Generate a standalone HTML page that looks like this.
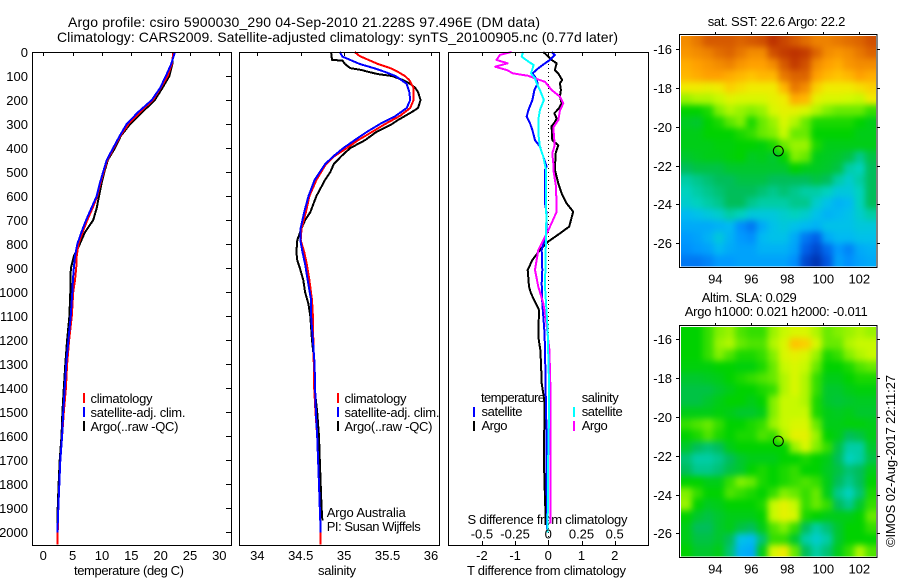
<!DOCTYPE html>
<html lang="en">
<head>
<meta charset="utf-8">
<title>Argo profile chart</title>
<style>
html,body{margin:0;padding:0;background:#fff;}
svg{display:block;}
text{font-family:"Liberation Sans",sans-serif;font-size:13px;fill:#000;}
</style>
</head>
<body>
<svg id="chart" width="900" height="580" viewBox="0 0 900 580" xmlns="http://www.w3.org/2000/svg">
<defs>
<filter id="map-smooth" filterUnits="userSpaceOnUse" x="640" y="0" width="260" height="580" color-interpolation-filters="sRGB"><feGaussianBlur stdDeviation="3.2"/></filter>
<clipPath id="clip-sst"><rect x="681" y="36" width="195" height="230.5"/></clipPath>
<clipPath id="clip-sla"><rect x="681" y="327" width="195" height="229.5"/></clipPath>
</defs>
<rect x="0" y="0" width="900" height="580" fill="#fff"/>
<text x="68" y="27" style="font-size:14px" textLength="472">Argo profile: csiro 5900030_290 04-Sep-2010 21.228S 97.496E (DM data)</text>
<text x="57" y="42" style="font-size:14px" textLength="561">Climatology: CARS2009. Satellite-adjusted climatology: synTS_20100905.nc (0.77d later)</text>

<text x="74" y="575" textLength="110">temperature (deg C)</text>
<text x="318" y="575" textLength="38">salinity</text>
<text x="467.5" y="524" textLength="160">S difference from climatology</text>
<text x="467" y="575" textLength="159">T difference from climatology</text>

<g>
<rect x="83" y="393" width="2" height="10" fill="#f00"/>
<text x="90.5" y="403" textLength="62">climatology</text>
<rect x="83" y="407" width="2" height="10" fill="#00f"/>
<text x="90.5" y="417" textLength="95">satellite-adj. clim.</text>
<rect x="83" y="421" width="2" height="10" fill="#000"/>
<text x="90.5" y="431" textLength="88">Argo(..raw -QC)</text>
</g>
<g>
<rect x="337" y="393" width="2" height="10" fill="#f00"/>
<text x="344.5" y="403" textLength="62">climatology</text>
<rect x="337" y="407" width="2" height="10" fill="#00f"/>
<text x="344.5" y="417" textLength="95">satellite-adj. clim.</text>
<rect x="337" y="421" width="2" height="10" fill="#000"/>
<text x="344.5" y="431" textLength="88">Argo(..raw -QC)</text>
</g>
<text x="326.7" y="517" textLength="79">Argo Australia</text>
<text x="326.7" y="531" textLength="94">PI: Susan Wijffels</text>

<g>
<text x="481" y="402" textLength="64">temperature</text>
<rect x="473" y="407" width="2" height="10" fill="#00f"/>
<text x="481.5" y="416" textLength="41">satellite</text>
<rect x="473" y="421" width="2" height="10" fill="#000"/>
<text x="481.5" y="430" textLength="26">Argo</text>
<text x="581.7" y="402" textLength="37">salinity</text>
<rect x="573" y="407" width="2" height="10" fill="#0ff"/>
<text x="581.7" y="416" textLength="41">satellite</text>
<rect x="573" y="421" width="2" height="10" fill="#f0f"/>
<text x="581.7" y="430" textLength="26">Argo</text>
</g>

<text x="707.7" y="26" textLength="137.6">sat. SST: 22.6 Argo: 22.2</text>
<text x="701.7" y="302" textLength="95">Altim. SLA: 0.029</text>
<text x="684.7" y="316" textLength="183">Argo h1000: 0.021 h2000: -0.011</text>
<text transform="translate(895 547) rotate(-90)" x="0" y="0" textLength="172">©IMOS 02-Aug-2017 22:11:27</text>
</svg>
<script>
// ---- profile data: depth (m) and values ----
var tempDepths = [0,50,100,150,200,250,300,350,400,450,500,550,600,650,700,750,800,850,900,950,1000,1100,1200,1300,1400,1500,1600,1700,1800,1900,2000,2050];
var tempClim = [22.2,21.9,21.2,20,18.7,16.5,14.5,13.1,12,10.9,10.3,9.7,9.2,8.4,7.5,6.7,6,5.7,5.6,5.4,5.1,4.85,4.4,4.05,3.85,3.5,3.2,2.9,2.73,2.56,2.45,2.4];
var tempSat = [22.45,21.8,20.9,19.9,18.5,16.2,14.2,13,11.9,10.8,10.2,9.6,9.1,8.2,7.3,6.5,5.8,5.4,5.2,5.05,4.95,4.67,4.27,3.9,3.65,3.4,3.2,2.9,2.73,2.56,2.4];
var tempArgo = [22.1,22,21.5,20.3,19,16.9,14.8,13.2,12.2,11,10.4,9.9,9.5,9.1,8.5,7.1,6.2,5.2,4.7,4.6,4.6,4.45,4.05,3.75,3.5,3.25,3.1,2.8,2.6,2.45,2.4];

var salClimDepths = [0,17,33,50,67,83,100,117,150,183,200,233,267,300,333,367,400,433,467,533,600,667,733,783,833,883,950,1033,1100,1200,1300,1400,1500,1600,1700,1800,1900,2000,2050];
var salClim = [35.12,35.18,35.28,35.39,35.53,35.62,35.70,35.75,35.80,35.80,35.80,35.76,35.64,35.47,35.32,35.16,35.03,34.89,34.79,34.68,34.60,34.56,34.51,34.50,34.54,34.57,34.60,34.63,34.64,34.645,34.65,34.655,34.67,34.69,34.70,34.71,34.72,34.73,34.73];
var salSatDepths = [0,19,33,50,67,83,100,117,133,167,200,233,267,300,333,367,400,433,467,533,600,667,733,783,833,883,950,1033,1100,1200,1300,1400,1500,1600,1700,1800,1900,2000];
var salSat = [34.95,34.98,35.07,35.18,35.34,35.47,35.59,35.66,35.72,35.75,35.76,35.72,35.59,35.41,35.26,35.12,34.99,34.88,34.78,34.66,34.59,34.54,34.50,34.495,34.52,34.55,34.58,34.62,34.62,34.64,34.66,34.665,34.675,34.69,34.70,34.71,34.72,34.73];
var salArgoDepths = [0,33,36,50,67,75,83,92,100,117,133,150,167,200,233,250,283,300,333,367,400,433,467,500,533,600,667,700,733,783,833,867,900,950,1000,1050,1100,1200,1300,1400,1500,1600,1700,1800,1900,1950];
var salArgo = [34.85,34.86,34.98,35.01,35.07,35.20,35.28,35.39,35.55,35.68,35.76,35.82,35.85,35.88,35.85,35.78,35.62,35.55,35.37,35.24,35.07,34.97,34.88,34.84,34.78,34.68,34.61,34.55,34.51,34.46,34.45,34.46,34.49,34.53,34.55,34.59,34.61,34.63,34.66,34.66,34.69,34.71,34.72,34.73,34.74,34.75];

var dTSatDepths = [0,12,33,47,68,89,103,130,158,200,242,269,297,325,367,394,436,478,491,630,671,755,824,907,963,1046,1157,1227,1400,1540,1800,2000];
var dTSat = [0.10,0.20,0.05,-0.10,-0.30,-0.48,-0.40,-0.32,-0.42,-0.48,-0.60,-0.65,-0.55,-0.48,-0.40,-0.25,-0.15,-0.05,-0.10,-0.10,-0.05,-0.05,-0.20,-0.18,-0.20,-0.18,-0.12,-0.10,-0.08,-0.06,-0.05,-0.03];
var dTArgoDepths = [0,19,33,47,75,89,117,130,158,186,214,235,255,276,292,309,367,388,422,490,547,588,630,665,727,755,789,824,866,907,977,1005,1074,1185,1240,1296,1380,1449,1560,1657,1768,1935,1970];
var dTArgo = [-0.15,0,0.10,0.25,0.20,0.30,0.42,0.35,0.38,0.35,0.40,0.32,0.18,0.25,0.20,0.10,0.12,0.30,0.22,0.20,0.30,0.40,0.55,0.75,0.63,0.35,0,-0.25,-0.48,-0.62,-0.58,-0.52,-0.28,-0.30,-0.24,-0.22,-0.20,-0.12,-0.12,-0.13,-0.12,-0.08,-0.08];
var dSSatDepths = [0,19,40,54,89,110,130,158,200,242,283,339,394,436,490,700,977,1150,1380,1520,1657,2000];
var dSSat = [-0.19,-0.20,-0.15,-0.11,-0.13,-0.10,-0.088,-0.063,-0.033,-0.063,-0.075,-0.075,-0.063,-0.038,-0.018,-0.015,-0.025,-0.005,0.005,0.005,0,-0.005];
var dSArgoDepths = [0,12,33,47,61,75,89,99,110,124,158,186,214,242,283,314,367,394,422,464,490,560,665,727,769,824,907,977,1046,1102,1240,1380,1518,1657,1796,1962];
var dSArgo = [-0.276,-0.364,-0.39,-0.307,-0.40,-0.314,-0.264,-0.151,-0.10,-0.025,0.025,0.088,0.113,0.088,0.075,0.038,0.045,0.045,0.03,0.038,0.038,0.058,0.063,0.013,-0.025,-0.075,-0.10,-0.075,-0.038,-0.02,0.008,0.015,0.018,0.015,0.018,0.018];

// ---- tick labels ----
var depthTicks = [0,100,200,300,400,500,600,700,800,900,1000,1100,1200,1300,1400,1500,1600,1700,1800,1900,2000];
var tempTicks = [0,5,10,15,20,25,30];
var salTicks = [34,34.5,35,35.5,36];
var salTickLabels = ['34','34.5','35','35.5','36'];
var dTTicks = [-2,-1,0,1,2];
var dTTickLabels = ['-2','-1','0','1','2'];
var dSTicks = [-0.5,-0.25,0,0.25,0.5];
var dSTickLabels = ['-0.5','-0.25','0','0.25','0.5'];
var lonTicks = [94,96,98,100,102];
var latTicks = [-16,-18,-20,-22,-24,-26];
var argoLon = 97.5;
var argoLat = -21.25;

// ---- map grids: colour level 0-100 (low = blue, high = red) ----
var sstGrid = [
[88,90,93,93,93,92,93,94,97,95,93,91,89,89,90,91,92,94],
[87,88,89,91,92,90,88,88,94,96,97,96,92,88,87,88,90,92],
[85,86,87,88,89,87,86,86,88,93,96,94,88,86,85,87,88,88],
[84,85,86,86,85,84,83,84,84,90,92,92,86,84,83,84,86,85],
[80,80,79,80,82,81,80,80,80,84,90,88,82,80,80,80,81,82],
[70,72,72,74,77,76,76,76,78,80,85,84,78,76,76,75,74,80],
[58,58,60,68,72,70,68,70,76,78,78,76,72,68,66,66,66,62],
[55,54,58,60,65,68,60,66,70,76,72,66,60,60,60,60,58,56],
[56,56,58,58,58,60,62,66,68,74,66,66,58,58,58,58,56,56],
[56,56,56,57,57,58,58,57,60,66,70,70,60,56,56,56,56,56],
[54,55,56,56,57,58,55,56,54,58,68,66,56,55,54,52,46,52],
[50,52,52,52,54,54,54,54,54,54,58,56,55,54,52,44,42,50],
[44,46,48,50,50,52,52,52,50,50,50,50,52,50,44,40,44,50],
[42,44,46,48,50,50,50,48,46,48,46,44,44,42,38,38,42,50],
[40,42,44,46,50,50,46,44,44,44,46,46,40,36,32,34,42,50],
[34,36,38,40,44,42,38,38,38,40,42,40,36,32,34,36,40,44],
[30,30,30,32,34,24,20,30,36,38,36,34,32,36,36,36,38,38],
[26,28,32,38,32,26,24,34,36,36,30,20,16,30,34,34,36,36],
[24,26,28,34,30,28,28,32,32,32,28,16,10,18,26,22,30,32],
[20,20,22,26,26,28,28,28,28,28,24,10,4,14,28,24,28,30]
];
var slaGrid = [
[58,58,62,68,70,64,62,62,70,74,76,76,72,66,68,70,72,70],
[58,58,62,70,72,66,64,64,72,76,83,82,76,66,66,72,74,74],
[58,58,62,68,64,60,60,62,68,76,78,76,70,60,62,68,72,74],
[57,57,57,58,58,57,57,60,66,74,76,74,66,58,58,60,64,66],
[54,54,55,56,58,60,62,64,66,72,76,72,62,56,56,58,60,60],
[52,52,52,54,56,58,58,60,62,72,76,72,62,54,54,56,57,57],
[52,52,54,56,58,58,56,58,68,74,74,72,60,54,53,54,55,55],
[56,56,56,57,56,54,54,56,68,74,74,74,60,56,55,56,54,54],
[62,64,66,62,58,58,60,62,70,74,76,76,66,56,56,57,57,56],
[58,60,64,60,58,60,60,64,62,72,78,78,70,58,56,50,52,56],
[54,50,48,50,56,58,58,58,58,58,70,76,68,62,52,44,44,54],
[48,44,44,46,50,54,56,56,56,58,58,60,58,56,50,42,44,52],
[50,46,46,48,52,54,58,60,58,60,62,58,58,55,52,48,50,56],
[58,58,56,56,62,68,66,60,58,60,62,64,62,56,50,46,50,58],
[68,62,58,58,64,62,60,58,62,68,66,62,66,56,46,42,48,60],
[70,58,55,56,58,58,58,60,74,78,74,62,66,62,50,46,54,62],
[58,54,52,54,56,56,56,58,74,78,76,60,58,56,56,56,58,66],
[56,50,50,54,56,52,50,56,64,68,62,50,44,48,54,58,58,62],
[56,52,52,54,50,36,34,48,62,62,54,44,40,44,54,58,58,58],
[58,54,54,56,48,32,30,56,76,80,66,50,44,48,56,62,72,64]
];
// colour ramp: level, r, g, b
var rampLevels = [0,15,25,35,42,50,58,68,75,80,83,86,92,100];
var rampColors = [[0,40,160],[0,90,230],[0,150,255],[0,190,240],[0,210,190],[0,190,90],[0,210,0],[130,240,0],[210,250,0],[240,235,0],[255,195,0],[255,160,0],[220,100,0],[170,20,0]];

var NS = 'http://www.w3.org/2000/svg';
var svg = document.getElementById('chart');

function depthY(d){ return 52 + d * 0.2402; }
function tempX(t){ return 43.3 + t * 5.867; }
function salX(s){ return 257.3 + (s - 34) * 86.85; }
function dTX(t){ return 548.3 + t * 33.2; }
function dSX(s){ return 548.3 + s * 132.8; }

function add(tag, attrs, parent){
  var el = document.createElementNS(NS, tag);
  for (var k in attrs) el.setAttribute(k, attrs[k]);
  (parent || svg).appendChild(el);
  return el;
}
function addLine(x1, y1, x2, y2, parent){
  var el = add('line', {x1:x1, y1:y1, x2:x2, y2:y2, stroke:'#000', 'stroke-width':1, 'shape-rendering':'crispEdges'}, parent);
  
  
  return el;
}
function addLabel(x, y, str, anchor, parent){
  var el = add('text', {x:x, y:y, 'text-anchor':anchor}, parent);
  el.textContent = str;
  
  
  return el;
}
function addSeries(name, depths, values, xFn, color, parent){
  var pts = [];
  for (var i = 0; i < values.length; i++) pts.push(xFn(values[i]).toFixed(1) + ',' + depthY(depths[i]).toFixed(1));
  var el = add('polyline', {points:pts.join(' '), fill:'none', stroke:color, 'stroke-width':2, 'shape-rendering':'crispEdges', 'stroke-linejoin':'round'}, parent);
  
  
}
function addPanel(name){
  var g = add('g', {});
  
  
  return g;
}
function addFrame(x, y, w, h, parent){
  var el = add('rect', {x:x, y:y, width:w, height:h, fill:'none', stroke:'#000', 'stroke-width':1, 'shape-rendering':'crispEdges'}, parent);
  
  
}

var i, t;
// temperature panel
var p1 = addPanel('temperature-panel');
addSeries('series-argo-temperature', tempDepths, tempArgo, tempX, '#000', p1);
addSeries('series-climatology-temperature', tempDepths, tempClim, tempX, '#f00', p1);
addSeries('series-satellite-temperature', tempDepths, tempSat, tempX, '#00f', p1);
addFrame(32.5, 52.5, 199, 493, p1);
for (i = 0; i < tempTicks.length; i++){
  t = tempX(tempTicks[i]);
  addLine(Math.round(t)+0.5, 52, Math.round(t)+0.5, 56, p1);
  addLabel(t, 560, String(tempTicks[i]), 'middle', p1);
}
for (i = 0; i < depthTicks.length; i++){
  t = Math.round(depthY(depthTicks[i]));
  if (depthTicks[i] > 0) addLine(226, t+0.5, 231, t+0.5, p1);
  addLabel(28, t + 5, String(depthTicks[i]), 'end', p1);
}
// salinity panel
var p2 = addPanel('salinity-panel');
addSeries('series-argo-salinity', salArgoDepths, salArgo, salX, '#000', p2);
addSeries('series-climatology-salinity', salClimDepths, salClim, salX, '#f00', p2);
addSeries('series-satellite-salinity', salSatDepths, salSat, salX, '#00f', p2);
addFrame(239.5, 52.5, 200, 493, p2);
for (i = 0; i < salTicks.length; i++){
  t = salX(salTicks[i]);
  addLine(Math.round(t)+0.5, 52, Math.round(t)+0.5, 56, p2);
  addLabel(t, 560, salTickLabels[i], 'middle', p2);
}
// difference panel
var p3 = addPanel('difference-panel');
var zero = add('line', {x1:dTX(0), y1:52, x2:dTX(0), y2:545, stroke:'#000', 'stroke-width':1, 'stroke-dasharray':'1 3', 'shape-rendering':'crispEdges'}, p3);


addSeries('series-argo-t-difference', dTArgoDepths, dTArgo, dTX, '#000', p3);
addSeries('series-satellite-t-difference', dTSatDepths, dTSat, dTX, '#00f', p3);
addSeries('series-argo-s-difference', dSArgoDepths, dSArgo, dSX, '#f0f', p3);
addSeries('series-satellite-s-difference', dSSatDepths, dSSat, dSX, '#0ff', p3);
addFrame(448.5, 52.5, 200, 493, p3);
for (i = 0; i < dTTicks.length; i++){
  t = dTX(dTTicks[i]);
  addLine(Math.round(t)+0.5, 52, Math.round(t)+0.5, 56, p3);
  addLine(Math.round(t)+0.5, 541, Math.round(t)+0.5, 545, p3);
  addLabel(t, 560, dTTickLabels[i], 'middle', p3);
}
for (i = 0; i < dSTicks.length; i++){
  addLabel(dSX(dSTicks[i]), 538.5, dSTickLabels[i], 'middle', p3);
}

// maps
function levelColor(v){
  var n = rampLevels.length - 1, k = 0;
  while (k < n - 1 && v > rampLevels[k + 1]) k++;
  var f = (v - rampLevels[k]) / (rampLevels[k + 1] - rampLevels[k]);
  var a = rampColors[k], b = rampColors[k + 1];
  return 'rgb(' + Math.round(a[0] + (b[0] - a[0]) * f) + ',' + Math.round(a[1] + (b[1] - a[1]) * f) + ',' + Math.round(a[2] + (b[2] - a[2]) * f) + ')';
}
function drawMap(name, clipId, grid, top, bottom, lat16Y, lat26Y, labelY){
  var g = add('g', {});
  
  
  var clip = add('g', {'clip-path':'url(#' + clipId + ')'}, g);
  
  
  var cells = add('g', {filter:'url(#map-smooth)'}, clip);
  
  
  var L = 681, R = 876, T = top + 1.5, B = bottom - 0.5;
  var nr = grid.length, nc = grid[0].length;
  var cw = (R - L) / nc, ch = (B - T) / nr;
  var bleed = 14;
  var lonX = function(lo){ return 715.3 + (lo - 94) * 18; };
  var latY = function(la){ return lat16Y + (-16 - la) * (lat26Y - lat16Y) / 10; };
  for (var r = 0; r < nr; r++){
    for (var c = 0; c < nc; c++){
      var x0 = L + c * cw, y0 = T + r * ch, w = cw + 0.5, h = ch + 0.5;
      // border cells bleed past the clip so smoothing does not fade at the edges
      if (c === 0){ x0 -= bleed; w += bleed; }
      if (c === nc - 1){ w += bleed; }
      if (r === 0){ y0 -= bleed; h += bleed; }
      if (r === nr - 1){ h += bleed; }
      var cell = add('rect', {x:x0.toFixed(2), y:y0.toFixed(2), width:w.toFixed(2), height:h.toFixed(2), fill:levelColor(grid[r][c])}, cells);
      
      
    }
  }
  addFrame(679.5, top + 0.5, 197.5, bottom - top, g);
  for (var i = 0; i < lonTicks.length; i++){
    var x = lonX(lonTicks[i]);
    addLine(Math.round(x)+0.5, top - 2, Math.round(x)+0.5, top, g);
    addLabel(x, labelY, String(lonTicks[i]), 'middle', g);
  }
  for (var j = 0; j < latTicks.length; j++){
    var y = Math.round(latY(latTicks[j]));
    addLine(676, y+0.5, 679, y+0.5, g);
    addLine(877, y+0.5, 880, y+0.5, g);
    addLabel(672, y + 5, String(latTicks[j]), 'end', g);
  }
  var mark = add('circle', {cx:lonX(argoLon), cy:latY(argoLat), r:5, fill:'none', stroke:'#000', 'stroke-width':1}, g);
  
  
}
drawMap('sst-map', 'clip-sst', sstGrid, 34, 267, 49.3, 243, 283.5);
drawMap('sla-map', 'clip-sla', slaGrid, 325, 557, 339.3, 533.3, 573.5);
</script>
</body>
</html>
